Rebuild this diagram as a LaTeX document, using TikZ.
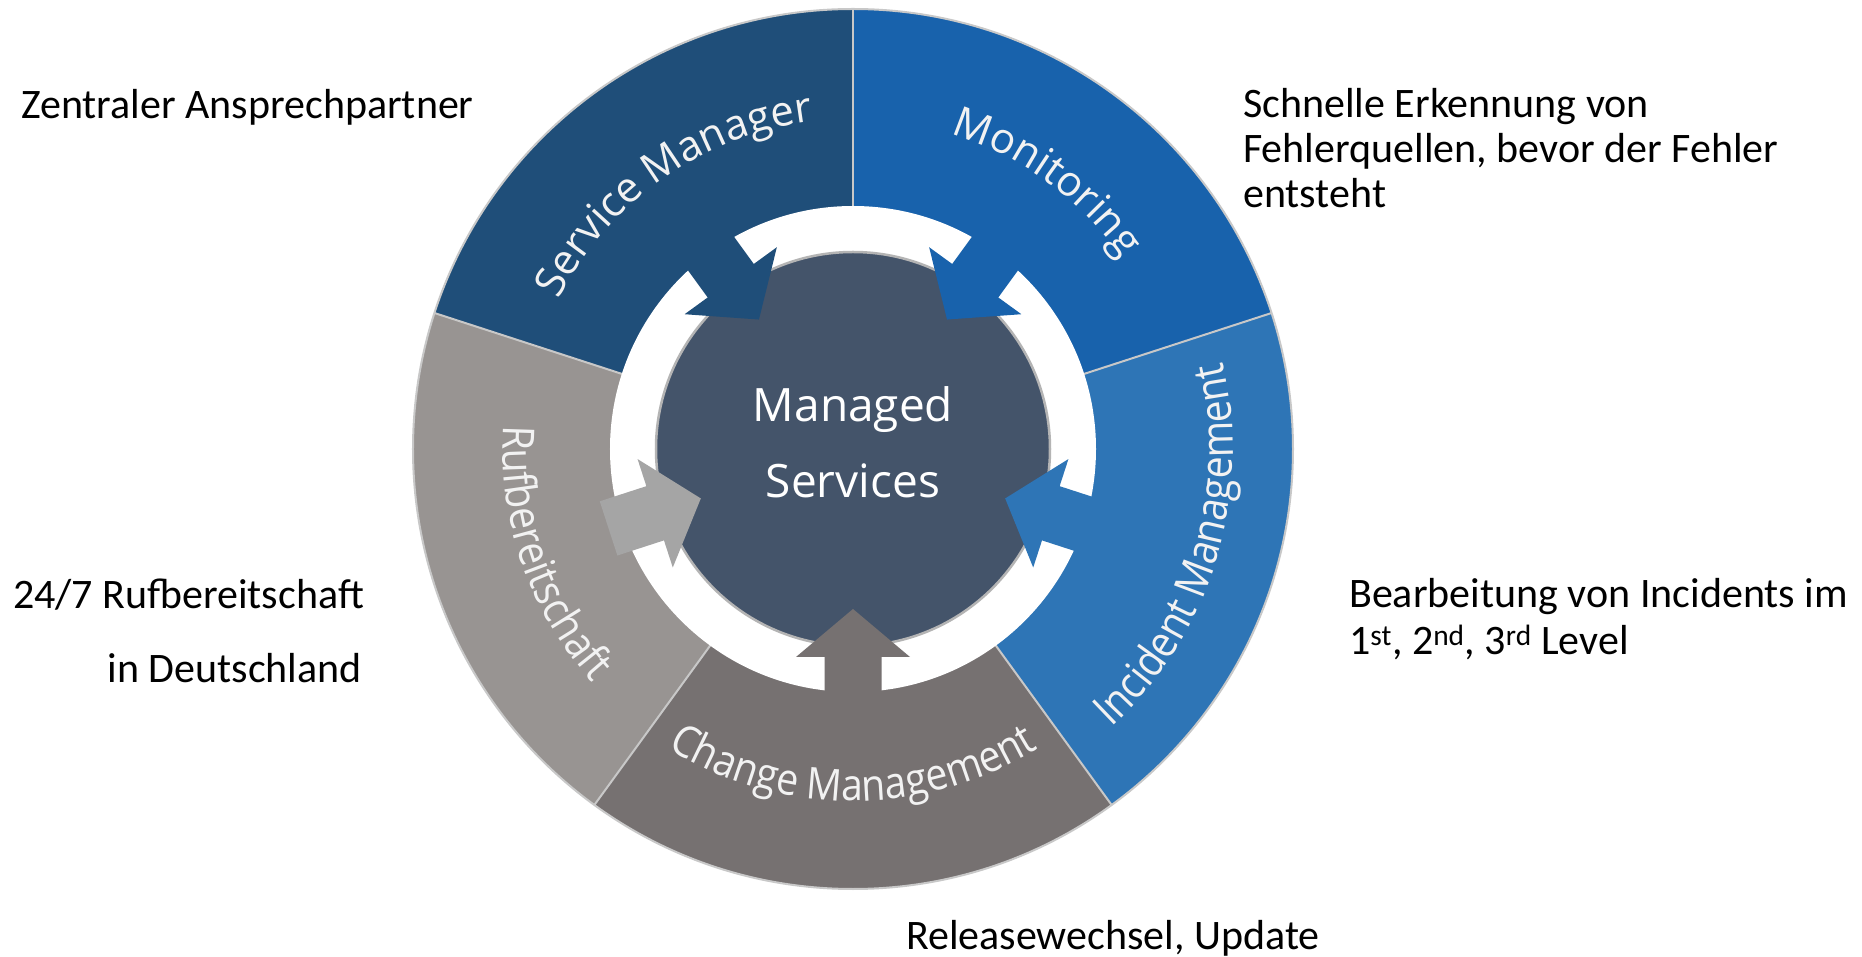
\documentclass[tikz,border=0pt]{standalone}
\usepackage{fontspec}
\setmainfont{Carlito}
\newfontfamily\segfont{Open Sans}
\newfontfamily\segfontn[FakeStretch=0.89]{Open Sans}
\usetikzlibrary{decorations.text}
\definecolor{cSM}{HTML}{1F4E79}
\definecolor{cMon}{HTML}{1862AC}
\definecolor{cInc}{HTML}{2E75B6}
\definecolor{cChg}{HTML}{767171}
\definecolor{cRuf}{HTML}{989492}
\definecolor{cRufA}{HTML}{A5A5A5}
\definecolor{cCore}{HTML}{44546A}
\definecolor{cSep}{HTML}{C8C8C8}
\definecolor{cShadow}{HTML}{B4B4B4}
\definecolor{cLab}{HTML}{F2F2F2}
\newcommand\seglab{\segfont\fontsize{42}{50}\selectfont\color{cLab}}
\newcommand\seglabn{\segfontn\fontsize{44}{52}\selectfont\color{cLab}}
\begin{document}
\begin{tikzpicture}[x=1pt,y=1pt,
  sidetext/.style={font=\fontsize{42}{50}\selectfont, text=black, inner sep=0pt},
  coretext/.style={font=\segfont\fontsize{46}{55}\selectfont, text=white, inner sep=0pt},
  sepline/.style={draw=cSep, line width=2},
  arclabel/.style={decorate, decoration={text along path, text align=center, text={|\seglab|#1}}},
  arclabeln/.style={decorate, decoration={text along path, text align=center, text={|\seglabn|#1}}}
]
\useasboundingbox (-853,-508) rectangle (1009,449);
\fill[white] (-853,-508) rectangle (1009,449);
% pie segments
\foreach \a/\c in {90/cSM, 18/cMon, -54/cInc, -126/cChg, -198/cRuf}
  \fill[\c] (0,0) -- (\a:440) arc[start angle=\a, end angle=\a+72, radius=440] -- cycle;
\foreach \a in {90,18,-54,-126,162}
  \draw[sepline] (0,0) -- (\a:440);
\draw[sepline] (0,0) circle (440);
% white ring and core
\fill[white] (0,0) circle (243);
\filldraw[fill=cCore, draw=cShadow, line width=2.5] (0,0) circle (197);
% inward arrows
\foreach \a/\c in {126/cSM, 54/cMon, -18/cInc, -90/cChg, 198/cRufA}
  \fill[\c, rotate=\a] (160,0) -- (208,57) -- (208,28.5) -- (257,28.5)
      -- (257,-28.5) -- (208,-28.5) -- (208,-57) -- cycle;
% core text
\node[coretext, anchor=base] (managed) at (0,27) {Managed};
\node[coretext, anchor=base] (services) at (0,-49) {Services};
% curved labels
\path[arclabel={Service Manager}] (175:330) arc[start angle=175, end angle=75, radius=330];
\path[arclabel={Monitoring}] (104:330) arc[start angle=104, end angle=4, radius=330];
\path[arclabeln={Incident Management}] (-72:380) arc[start angle=-72, end angle=38, radius=380];
\path[arclabeln={Change Management}] (-145:352) arc[start angle=-145, end angle=-35, radius=352];
\path[arclabeln={Rufbereitschaft}] (149:350) arc[start angle=149, end angle=249, radius=350];
% side texts
\node[sidetext, anchor=base west] (zentral) at (-832,330) {Zentraler Ansprechpartner};
\node[sidetext, anchor=base west] (mon1) at (390,331) {Schnelle Erkennung von};
\node[sidetext, anchor=base west] (mon2) at (390,286) {Fehlerquellen, bevor der Fehler};
\node[sidetext, anchor=base west] (mon3) at (390,241) {entsteht};
\node[sidetext, anchor=base west] (inc1) at (496,-159) {Bearbeitung von Incidents im};
\node[sidetext, anchor=base west] (inc2) at (496,-206) {1\textsuperscript{st}, 2\textsuperscript{nd}, 3\textsuperscript{rd} Level};
\node[sidetext, anchor=base west] (chg1) at (53,-500) {Releasewechsel, Update};
\node[sidetext, anchor=base west] (ruf1) at (-840,-160) {24/7 Rufbereitschaft};
\node[sidetext, anchor=base east] (ruf2) at (-491,-234) {in Deutschland};
\end{tikzpicture}
\end{document}
